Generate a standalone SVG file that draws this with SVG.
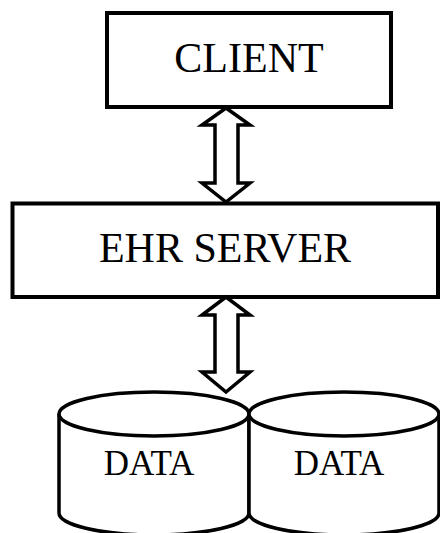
<svg xmlns="http://www.w3.org/2000/svg" width="440" height="533" viewBox="0 0 440 533">
  <style>
    .box { fill: #ffffff; stroke: #000000; stroke-width: 4; }
    .cyl { fill: #ffffff; stroke: #000000; stroke-width: 3.5; }
    .arrow { fill: #ffffff; stroke: #000000; stroke-width: 3.5; stroke-linejoin: miter; }
    .label { font-family: "Liberation Serif", "Times New Roman", serif; fill: #000000; text-anchor: middle; }
  </style>
  <rect width="440" height="533" fill="#ffffff"/>

  <g id="client">
    <rect class="box" x="107" y="13" width="284" height="94"/>
    <text class="label" x="249" y="72" font-size="42">CLIENT</text>
  </g>

  <g id="ehr-server">
    <rect class="box" x="12.5" y="203.5" width="425.5" height="93.5"/>
    <text class="label" x="225" y="262" font-size="42">EHR SERVER</text>
  </g>

  <g id="data-1">
    <path class="cyl" d="M59,414 L59,513 A95,22 0 0 0 249,513 L249,414"/>
    <ellipse class="cyl" cx="154" cy="414" rx="95" ry="22"/>
    <text class="label" x="149" y="475" font-size="35">DATA</text>
  </g>

  <g id="data-2">
    <path class="cyl" d="M249,414 L249,513 A95,22 0 0 0 439,513 L439,414"/>
    <ellipse class="cyl" cx="344" cy="414" rx="95" ry="22"/>
    <text class="label" x="339" y="475" font-size="35">DATA</text>
  </g>

  <g id="connectors">
    <path class="arrow" d="M226,108 L202,125 L215,125 L215,183 L202,183 L226,202 L250,183 L238,183 L238,125 L250,125 Z"/>
    <path class="arrow" d="M226,297 L202,315 L215,315 L215,372 L202,372 L226,392 L250,372 L238,372 L238,315 L250,315 Z"/>
  </g>
</svg>
